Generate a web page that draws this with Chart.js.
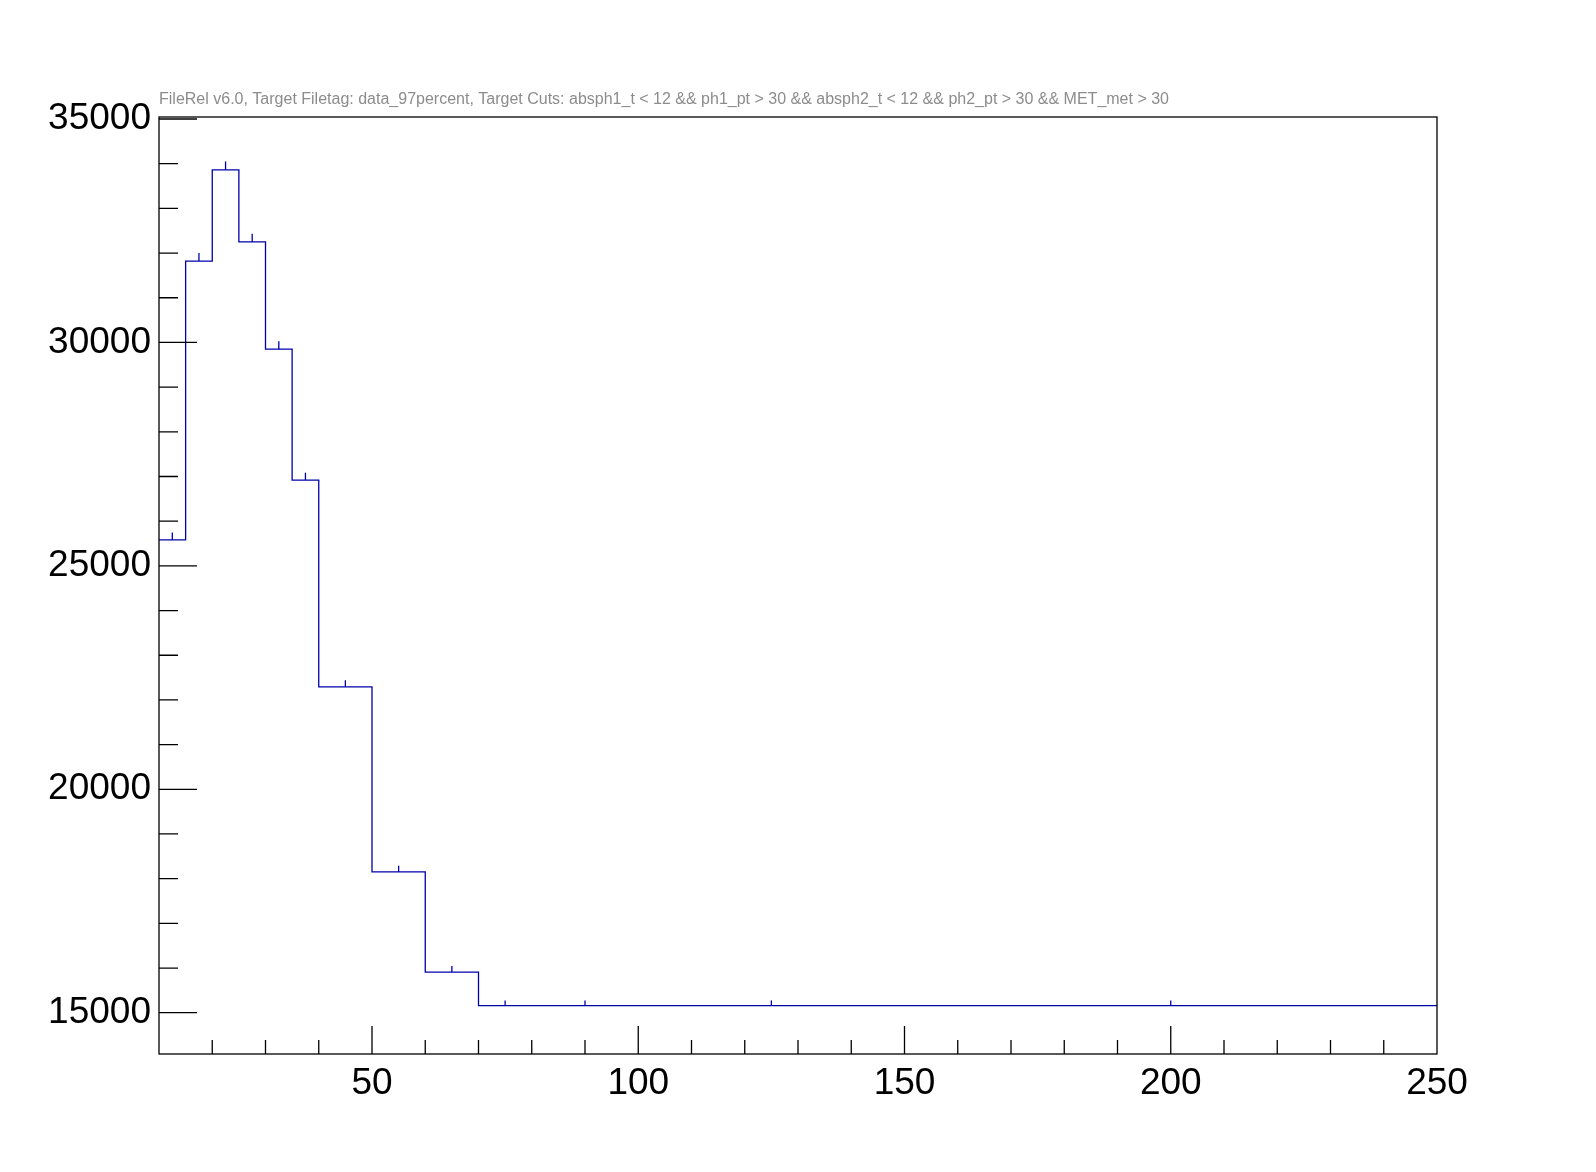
<!DOCTYPE html>
<html>
<head>
<meta charset="utf-8">
<script src="https://cdn.jsdelivr.net/npm/chart.js@4.4.1/dist/chart.umd.min.js"></script>
<style>
  html, body { margin: 0; padding: 0; background: #ffffff; }
  #wrap { width: 1596px; height: 1172px; }
</style>
</head>
<body>
<div id="wrap"><canvas id="histo"></canvas></div>
<script>
// bin edges (x) and bin contents
var binEdges = [10, 15, 20, 25, 30, 35, 40, 50, 60, 70, 80, 100, 150, 250];
var binValues = [25580, 31820, 33860, 32250, 29850, 26920, 22290, 18150, 15910, 15160, 15160, 15160, 15160];
var binErrors = [165, 180, 190, 182, 175, 165, 150, 140, 135, 115, 115, 115, 115];

var xTickLabels = [50, 100, 150, 200, 250];
var yTickLabels = [15000, 20000, 25000, 30000, 35000];
var xRange = [10, 250];
var yRange = [14076, 35045];

var titleText = 'FileRel v6.0, Target Filetag: data_97percent, Target Cuts: absph1_t < 12 && ph1_pt > 30 && absph2_t < 12 && ph2_pt > 30 && MET_met > 30';

var fontName = "'Liberation Sans', Arial, Helvetica, sans-serif";
var histColor = '#0000aa';

// step points: one per lower edge, plus the last upper edge
var stepPoints = [];
for (var i = 0; i < binValues.length; i++) {
  stepPoints.push({ x: binEdges[i], y: binValues[i] });
}
stepPoints.push({ x: binEdges[binEdges.length - 1], y: binValues[binValues.length - 1] });

var rootLook = {
  id: 'rootLook',
  beforeDraw: function(chart) {
    var ctx = chart.ctx;
    ctx.save();
    ctx.fillStyle = '#ffffff';
    ctx.fillRect(0, 0, chart.width, chart.height);
    ctx.restore();
  },
  afterDraw: function(chart) {
    var ctx = chart.ctx;
    var area = chart.chartArea;
    var xs = chart.scales.x;
    var ys = chart.scales.y;
    ctx.save();

    // error bars (upper half only, like the picture)
    ctx.strokeStyle = histColor;
    ctx.lineWidth = 1.3;
    for (var i = 0; i < binValues.length; i++) {
      var cx = xs.getPixelForValue((binEdges[i] + binEdges[i + 1]) / 2);
      ctx.beginPath();
      ctx.moveTo(cx, ys.getPixelForValue(binValues[i]));
      ctx.lineTo(cx, ys.getPixelForValue(binValues[i] + binErrors[i]));
      ctx.stroke();
    }

    // frame
    ctx.strokeStyle = '#000000';
    ctx.lineWidth = 1.3;
    ctx.strokeRect(area.left, area.top, area.right - area.left, area.bottom - area.top);

    // x ticks, pointing up into the frame
    ctx.beginPath();
    for (var v = 20; v < xRange[1]; v += 10) {
      var px = xs.getPixelForValue(v);
      var len = (v % 50 == 0) ? 28 : 14;
      ctx.moveTo(px, area.bottom);
      ctx.lineTo(px, area.bottom - len);
    }
    // y ticks, pointing right into the frame
    for (var w = 15000; w <= 35000; w += 1000) {
      var py = ys.getPixelForValue(w);
      var ylen = (w % 5000 == 0) ? 38 : 19;
      ctx.moveTo(area.left, py);
      ctx.lineTo(area.left + ylen, py);
    }
    ctx.stroke();

    // title
    ctx.fillStyle = '#8c8c8c';
    ctx.font = '16px ' + fontName;
    ctx.textBaseline = 'alphabetic';
    ctx.textAlign = 'left';
    ctx.fillText(titleText, 159, 104);
    ctx.restore();
  }
};

var chart = new Chart(document.getElementById('histo'), {
  type: 'line',
  data: {
    datasets: [{
      label: 'histo',
      data: stepPoints,
      stepped: 'before',
      borderColor: histColor,
      borderWidth: 1.3,
      pointRadius: 0,
      fill: false
    }]
  },
  options: {
    responsive: true,
    maintainAspectRatio: false,
    animation: false,
    layout: { padding: { left: 0, right: 159, top: 117, bottom: 0 } },
    plugins: {
      legend: { display: false },
      tooltip: { enabled: false },
      title: { display: false }
    },
    scales: {
      x: {
        type: 'linear',
        min: xRange[0],
        max: xRange[1],
        afterBuildTicks: function(scale) {
          scale.ticks = xTickLabels.map(function(v) { return { value: v }; });
        },
        afterFit: function(scale) { scale.height = 118; },
        grid: { display: false, drawTicks: false },
        border: { display: false },
        ticks: {
          padding: 8,
          color: '#000000',
          maxRotation: 0,
          autoSkip: false,
          font: { family: fontName, size: 37 }
        }
      },
      y: {
        type: 'linear',
        min: yRange[0],
        max: yRange[1],
        afterBuildTicks: function(scale) {
          scale.ticks = yTickLabels.map(function(v) { return { value: v }; });
        },
        afterFit: function(scale) { scale.width = 159; },
        grid: { display: false, drawTicks: false },
        border: { display: false },
        ticks: {
          padding: 8,
          color: '#000000',
          autoSkip: false,
          font: { family: fontName, size: 37 },
          callback: function(value) { return String(value); }
        }
      }
    }
  },
  plugins: [rootLook]
});
</script>
</body>
</html>
